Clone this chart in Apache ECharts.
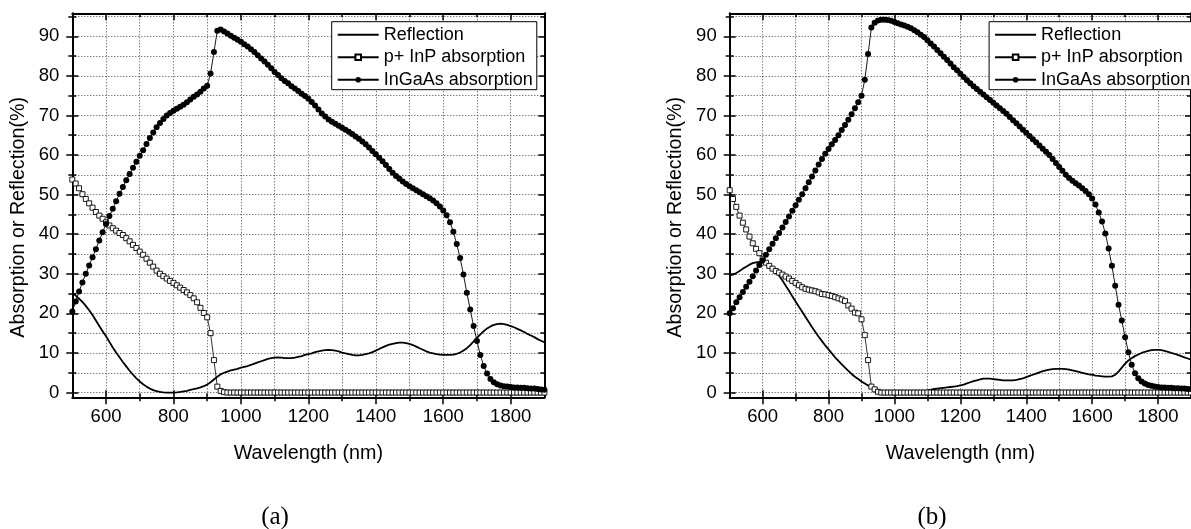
<!DOCTYPE html>
<html>
<head>
<meta charset="utf-8">
<script src="https://cdn.jsdelivr.net/npm/echarts@6/dist/echarts.min.js"></script>
<style>
html,body{margin:0;padding:0;background:#fff;}
#chart{width:1191px;height:529px;}
</style>
</head>
<body>
<div id="chart"></div>
<script>
// ---------------- data ----------------
const wavelength = [
  500,510,520,530,540,550,560,570,580,590,
  600,610,620,630,640,650,660,670,680,690,
  700,710,720,730,740,750,760,770,780,790,
  800,810,820,830,840,850,860,870,880,890,
  900,910,920,930,940,950,960,970,980,990,
  1000,1010,1020,1030,1040,1050,1060,1070,1080,1090,
  1100,1110,1120,1130,1140,1150,1160,1170,1180,1190,
  1200,1210,1220,1230,1240,1250,1260,1270,1280,1290,
  1300,1310,1320,1330,1340,1350,1360,1370,1380,1390,
  1400,1410,1420,1430,1440,1450,1460,1470,1480,1490,
  1500,1510,1520,1530,1540,1550,1560,1570,1580,1590,
  1600,1610,1620,1630,1640,1650,1660,1670,1680,1690,
  1700,1710,1720,1730,1740,1750,1760,1770,1780,1790,
  1800,1810,1820,1830,1840,1850,1860,1870,1880,1890,
  1900
];

// (a)
const reflectionA = [
  25.2,24.5,23.7,22.9,21.9,20.8,19.6,18.2,16.8,15.5,
  14.2,12.8,11.4,10.1,8.9,7.7,6.6,5.5,4.5,3.6,
  2.8,2.1,1.5,1.0,0.6,0.35,0.15,0.05,0.0,0.0,
  0.0,0.05,0.15,0.3,0.45,0.65,0.85,1.05,1.3,1.6,
  2.0,2.6,3.3,4.0,4.6,5.0,5.3,5.6,5.8,6.0,
  6.3,6.5,6.7,7.0,7.3,7.6,7.9,8.2,8.5,8.7,
  8.8,8.9,8.8,8.7,8.7,8.7,8.8,9.0,9.2,9.5,
  9.7,9.9,10.2,10.4,10.6,10.7,10.8,10.7,10.6,10.4,
  10.1,9.9,9.7,9.5,9.4,9.4,9.5,9.7,9.9,10.2,
  10.6,11.0,11.4,11.8,12.1,12.3,12.5,12.6,12.6,12.5,
  12.3,12.0,11.6,11.2,10.8,10.4,10.1,9.9,9.7,9.6,
  9.5,9.5,9.5,9.6,9.8,10.1,10.6,11.2,12.0,12.9,
  13.8,14.7,15.5,16.2,16.7,17.1,17.3,17.4,17.3,17.1,
  16.8,16.5,16.1,15.7,15.3,14.8,14.4,14.0,13.5,13.1,
  12.7
];
const inpA = [
  53.8,52.8,51.6,50.1,48.9,47.8,46.7,45.6,44.7,43.9,
  43.0,42.2,41.5,40.9,40.3,39.8,39.0,38.2,37.3,36.5,
  35.6,34.8,33.8,32.8,31.8,30.8,30.0,29.4,28.8,28.2,
  27.7,27.1,26.5,25.9,25.3,24.6,23.8,22.8,21.4,20.1,
  19.0,15.0,8.2,1.5,0.4,0.1,0,0,0,0,
  0,0,0,0,0,0,0,0,0,0,
  0,0,0,0,0,0,0,0,0,0,
  0,0,0,0,0,0,0,0,0,0,
  0,0,0,0,0,0,0,0,0,0,
  0,0,0,0,0,0,0,0,0,0,
  0,0,0,0,0,0,0,0,0,0,
  0,0,0,0,0,0,0,0,0,0,
  0,0,0,0,0,0,0,0,0,0,
  0,0,0,0,0,0,0,0,0,0,
  0
];
const ingaasA = [
  20.5,23.0,25.5,27.8,30.0,32.1,34.2,36.2,38.4,40.5,
  42.6,44.6,46.4,48.3,50.2,51.9,53.6,55.2,56.8,58.3,
  59.8,61.2,62.8,64.3,65.7,67.0,68.1,69.1,70.0,70.6,
  71.2,71.7,72.2,72.7,73.3,74.0,74.7,75.3,76.0,76.8,
  77.5,80.6,86.0,91.4,91.7,91.2,90.7,90.1,89.6,89.1,
  88.6,88.0,87.4,86.7,86.0,85.2,84.4,83.6,82.8,81.9,
  81.0,80.2,79.4,78.7,78.1,77.4,76.8,76.2,75.5,74.9,
  74.2,73.4,72.5,71.5,70.5,69.7,69.0,68.4,67.9,67.4,
  66.9,66.4,65.9,65.3,64.7,64.1,63.4,62.7,61.9,61.0,
  60.2,59.3,58.4,57.5,56.5,55.5,54.7,54.0,53.3,52.7,
  52.1,51.6,51.1,50.6,50.1,49.6,49.1,48.5,47.8,47.0,
  46.0,44.8,43.0,40.6,37.5,34.0,29.8,25.2,21.0,16.8,
  13.0,9.5,6.7,4.8,3.4,2.6,2.1,1.8,1.6,1.5,
  1.4,1.3,1.3,1.2,1.2,1.1,1.0,1.0,0.9,0.8,
  0.7
];

// (b)
const reflectionB = [
  29.6,29.8,30.2,30.7,31.3,31.8,32.3,32.7,32.9,33.0,
  32.8,32.5,32.0,31.3,30.5,29.5,28.3,27.0,25.7,24.3,
  23.0,21.7,20.4,19.1,17.8,16.5,15.3,14.1,13.0,11.9,
  10.9,9.9,8.9,8.0,7.1,6.3,5.5,4.7,4.0,3.4,
  2.8,2.3,1.8,1.4,1.0,0.7,0.4,0.2,0.1,0.0,
  0.0,0.0,0.0,0.0,0.0,0.05,0.1,0.2,0.3,0.4,
  0.5,0.7,0.9,1.0,1.1,1.2,1.3,1.4,1.5,1.6,
  1.8,2.0,2.3,2.6,2.9,3.1,3.3,3.5,3.5,3.5,
  3.4,3.3,3.2,3.1,3.1,3.1,3.1,3.2,3.4,3.6,
  3.9,4.2,4.5,4.8,5.1,5.4,5.6,5.8,5.9,6.0,
  6.0,6.0,5.9,5.8,5.6,5.4,5.2,5.0,4.8,4.6,
  4.5,4.3,4.2,4.1,4.0,4.0,4.1,4.5,5.3,6.3,
  7.3,8.1,8.7,9.2,9.6,10.0,10.3,10.5,10.7,10.8,
  10.8,10.7,10.5,10.3,10.0,9.8,9.5,9.2,8.9,8.6,
  8.3
];
const inpB = [
  51.1,48.9,46.9,44.7,42.9,41.2,39.4,37.7,36.3,35.2,
  33.8,32.8,32.0,31.3,30.7,30.3,29.8,29.3,28.8,28.2,
  27.7,27.1,26.6,26.2,26.0,25.8,25.6,25.3,24.9,24.8,
  24.6,24.4,24.1,23.8,23.5,23.1,22.0,21.2,20.2,20.0,
  18.5,14.5,8.2,1.5,0.8,0.2,0,0,0,0,
  0,0,0,0,0,0,0,0,0,0,
  0,0,0,0,0,0,0,0,0,0,
  0,0,0,0,0,0,0,0,0,0,
  0,0,0,0,0,0,0,0,0,0,
  0,0,0,0,0,0,0,0,0,0,
  0,0,0,0,0,0,0,0,0,0,
  0,0,0,0,0,0,0,0,0,0,
  0,0,0,0,0,0,0,0,0,0,
  0,0,0,0,0,0,0,0,0,0,
  0
];
const ingaasB = [
  20.0,21.3,22.8,24.1,25.4,26.7,28.0,29.4,30.8,32.2,
  33.4,34.8,36.2,37.6,39.0,40.3,41.7,43.1,44.5,45.9,
  47.3,48.7,50.1,51.6,53.1,54.6,56.1,57.6,59.0,60.3,
  61.5,62.7,63.8,65.0,66.3,67.6,68.9,70.3,71.8,73.3,
  75.0,79.0,85.5,92.2,93.4,94.0,94.2,94.2,94.1,93.9,
  93.6,93.3,93.0,92.7,92.4,92.0,91.5,91.0,90.4,89.8,
  89.0,88.2,87.4,86.5,85.7,84.8,84.0,83.1,82.2,81.4,
  80.5,79.7,78.9,78.1,77.4,76.7,76.0,75.3,74.6,73.9,
  73.2,72.5,71.8,71.1,70.4,69.6,68.8,68.0,67.2,66.4,
  65.6,64.8,64.0,63.2,62.4,61.6,60.8,60.0,59.0,58.0,
  57.0,56.0,55.0,54.2,53.5,52.9,52.3,51.6,50.9,50.1,
  49.0,47.5,45.5,43.2,40.2,36.4,32.0,27.0,22.2,18.2,
  14.0,10.2,7.0,4.9,3.6,2.8,2.3,1.9,1.7,1.5,
  1.4,1.3,1.3,1.2,1.2,1.1,1.1,1.0,1.0,0.9,
  0.9
];

const seriesNames = ['Reflection', 'p+ InP absorption', 'InGaAs absorption'];
const panelLabels = ['(a)', '(b)'];
const xName = 'Wavelength (nm)';
const yName = 'Absorption or Reflection(%)';
const xMajorTicks = [600, 800, 1000, 1200, 1400, 1600, 1800];
const xMinorTicks = [600, 700, 800, 900, 1000, 1100, 1200, 1300, 1400, 1500, 1600, 1700, 1800];
const yMajorTicks = [0, 10, 20, 30, 40, 50, 60, 70, 80, 90];
const yMinorTicks = [0, 5, 10, 15, 20, 25, 30, 35, 40, 45, 50, 55, 60, 65, 70, 75, 80, 85, 90, 95];
const X_MIN = 500, X_MAX = 1900, Y_MIN = -1.2, Y_MAX = 95.8;

// ---------------- layout / style ----------------
const FONT = 'Liberation Sans, Arial, sans-serif';
const BLACK = '#000';
const grids = [
  { left: 72.3, top: 13.3, width: 472.1, height: 384 },
  { left: 729.7, top: 13.3, width: 472.5, height: 384 }
];
const legendLeft = [331.7, 989.1];
const panelLabelPos = [[275, 517], [932, 517]];
const plainNumber = (v) => String(v);

function tickStyle(w) { return { color: BLACK, width: w }; }

function xAxesFor(gi) {
  const base = {
    type: 'value', gridIndex: gi, min: X_MIN, max: X_MAX, silent: true,
    axisPointer: { show: false }
  };
  const off = { show: false };
  const mk = (o) => Object.assign({}, base, o);
  return [
    mk({ position: 'bottom',
      axisLine: { show: true, onZero: false, lineStyle: { color: BLACK, width: 2 } },
      axisTick: { show: true, inside: true, length: 4, customValues: xMinorTicks, lineStyle: tickStyle(1.5) },
      axisLabel: off,
      splitLine: { show: true, lineStyle: { color: '#444', width: 1, type: [1, 2] } },
      name: xName, nameLocation: 'middle', nameGap: 46,
      nameTextStyle: { fontFamily: FONT, fontSize: 19.7, color: BLACK } }),
    mk({ position: 'bottom', axisLine: { show: false, onZero: false },
      axisTick: { show: true, inside: false, length: 4, customValues: xMinorTicks, lineStyle: tickStyle(1.5) },
      axisLabel: off, splitLine: off }),
    mk({ position: 'bottom', axisLine: { show: false, onZero: false },
      axisTick: { show: true, inside: false, length: 7, customValues: xMajorTicks, lineStyle: tickStyle(1.5) },
      axisLabel: { show: true, customValues: xMajorTicks, formatter: plainNumber, margin: 10, fontFamily: FONT, fontSize: 18.5, color: BLACK },
      splitLine: off }),
    mk({ position: 'bottom', axisLine: { show: false, onZero: false },
      axisTick: { show: true, inside: true, length: 7, customValues: xMajorTicks, lineStyle: tickStyle(1.5) },
      axisLabel: off, splitLine: off }),
    mk({ position: 'top',
      axisLine: { show: true, onZero: false, lineStyle: { color: BLACK, width: 2 } },
      axisTick: { show: true, inside: true, length: 4, customValues: xMinorTicks, lineStyle: tickStyle(1.5) },
      axisLabel: off, splitLine: off }),
    mk({ position: 'top', axisLine: { show: false, onZero: false },
      axisTick: { show: true, inside: true, length: 7, customValues: xMajorTicks, lineStyle: tickStyle(1.5) },
      axisLabel: off, splitLine: off })
  ];
}

function yAxesFor(gi) {
  const base = {
    type: 'value', gridIndex: gi, min: Y_MIN, max: Y_MAX, silent: true,
    axisPointer: { show: false }
  };
  const off = { show: false };
  const mk = (o) => Object.assign({}, base, o);
  return [
    mk({ position: 'left',
      axisLine: { show: true, onZero: false, lineStyle: { color: BLACK, width: 2 } },
      axisTick: { show: true, inside: true, length: 4, customValues: yMinorTicks, lineStyle: tickStyle(1.5) },
      axisLabel: off,
      splitLine: { show: true, lineStyle: { color: '#444', width: 1, type: [1, 2] } },
      name: yName, nameLocation: 'middle', nameGap: 44, nameRotate: 90,
      nameTextStyle: { fontFamily: FONT, fontSize: 19.7, color: BLACK, padding: [0, 24, 0, 0] } }),
    mk({ position: 'left', axisLine: { show: false, onZero: false },
      axisTick: { show: true, inside: false, length: 4, customValues: yMinorTicks, lineStyle: tickStyle(1.5) },
      axisLabel: off, splitLine: off }),
    mk({ position: 'left', axisLine: { show: false, onZero: false },
      axisTick: { show: true, inside: false, length: 6, customValues: yMajorTicks, lineStyle: tickStyle(1.5) },
      axisLabel: { show: true, customValues: yMajorTicks, formatter: plainNumber, margin: 13, fontFamily: FONT, fontSize: 18.5, color: BLACK },
      splitLine: off }),
    mk({ position: 'left', axisLine: { show: false, onZero: false },
      axisTick: { show: true, inside: true, length: 6, customValues: yMajorTicks, lineStyle: tickStyle(1.5) },
      axisLabel: off, splitLine: off }),
    mk({ position: 'right',
      axisLine: { show: true, onZero: false, lineStyle: { color: BLACK, width: 2 } },
      axisTick: { show: true, inside: true, length: 4, customValues: yMinorTicks, lineStyle: tickStyle(1.5) },
      axisLabel: off, splitLine: off }),
    mk({ position: 'right', axisLine: { show: false, onZero: false },
      axisTick: { show: true, inside: true, length: 6, customValues: yMajorTicks, lineStyle: tickStyle(1.5) },
      axisLabel: off, splitLine: off })
  ];
}

function pairs(vals) { return wavelength.map((w, i) => [w, vals[i]]); }

function seriesFor(gi, refl, inp, ingaas) {
  const ax = { xAxisIndex: gi * 6, yAxisIndex: gi * 6 };
  return [
    Object.assign({
      type: 'line', name: seriesNames[0], data: pairs(refl), symbol: 'none', smooth: false,
      lineStyle: { color: BLACK, width: 1.8 }, itemStyle: { color: BLACK }, z: 3
    }, ax),
    Object.assign({
      type: 'line', name: seriesNames[1], data: pairs(inp), symbol: 'rect', symbolSize: 5,
      lineStyle: { color: BLACK, width: 0.8 },
      itemStyle: { color: '#fff', borderColor: BLACK, borderWidth: 0.9 }, z: 4
    }, ax),
    Object.assign({
      type: 'line', name: seriesNames[2], data: pairs(ingaas), symbol: 'circle', symbolSize: 6,
      lineStyle: { color: BLACK, width: 0.9 }, itemStyle: { color: BLACK }, z: 5
    }, ax)
  ];
}

function legendFor(gi) {
  return {
    orient: 'vertical', left: legendLeft[gi], top: 21.7,
    itemWidth: 41, itemHeight: 7, itemGap: 4.5,
    padding: [4, 4, 1, 5],
    borderColor: BLACK, borderWidth: 1, backgroundColor: '#fff',
    selectedMode: false,
    textStyle: { fontFamily: FONT, fontSize: 18, color: BLACK, lineHeight: 18 },
    data: [
      { name: seriesNames[0], itemStyle: { opacity: 0 } },
      { name: seriesNames[1] },
      { name: seriesNames[2] }
    ]
  };
}

const option = {
  animation: false,
  backgroundColor: '#fff',
  grid: grids,
  xAxis: [].concat(xAxesFor(0), xAxesFor(1)),
  yAxis: [].concat(yAxesFor(0), yAxesFor(1)),
  legend: [legendFor(0), legendFor(1)],
  series: [].concat(
    seriesFor(0, reflectionA, inpA, ingaasA),
    seriesFor(1, reflectionB, inpB, ingaasB)
  ),
  graphic: panelLabels.map((t, i) => ({
    type: 'text', x: panelLabelPos[i][0], y: panelLabelPos[i][1], silent: true,
    style: { text: t, fontFamily: 'Liberation Serif, Times New Roman, serif', fontSize: 25,
      fill: BLACK, textAlign: 'center', textVerticalAlign: 'middle' }
  }))
};

const chart = echarts.init(document.getElementById('chart'), null, { renderer: 'canvas' });
chart.setOption(option);
</script>
</body>
</html>
